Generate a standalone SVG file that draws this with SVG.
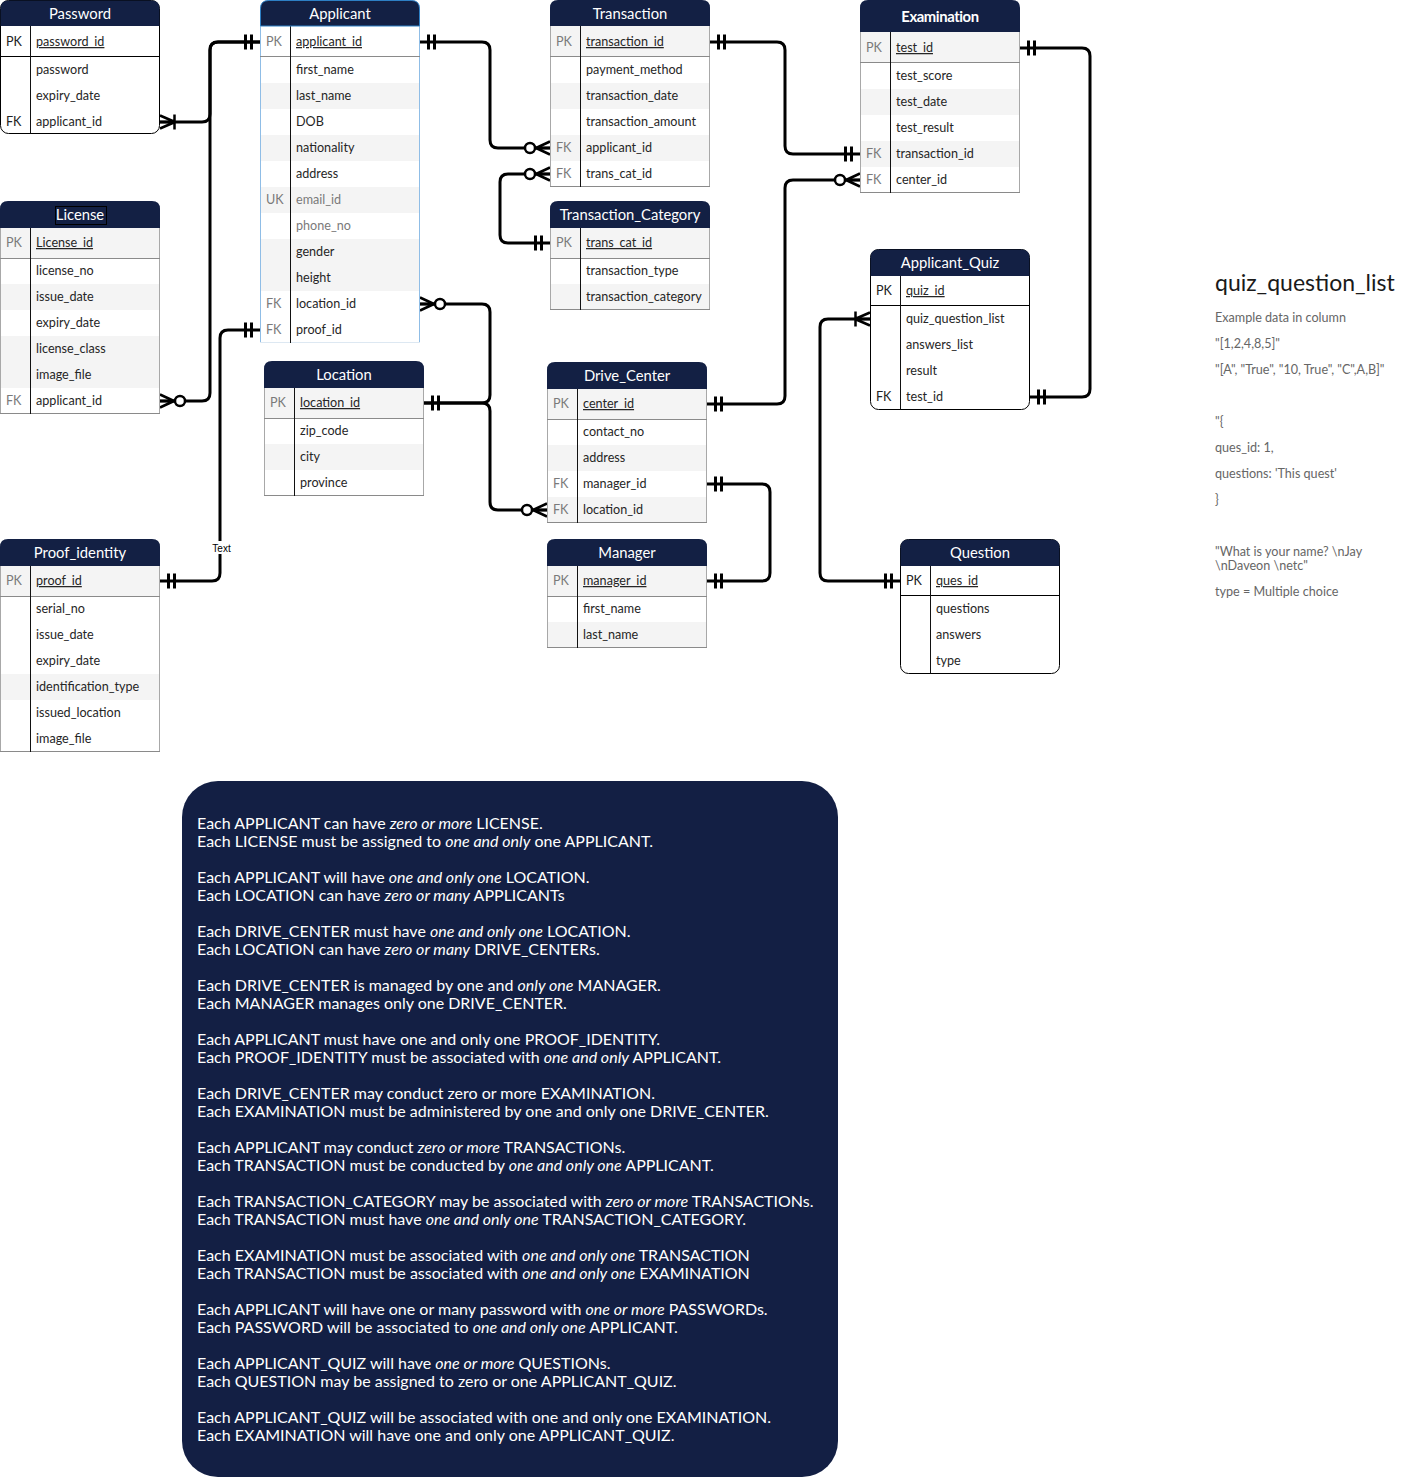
<svg xmlns="http://www.w3.org/2000/svg" width="1401" height="1481" viewBox="0 0 1401 1481">
<style>
.hdr{fill:#132044}
.ht{font-family:Lato,"Open Sans",sans-serif;font-size:14.8px;fill:#fff;text-anchor:middle}
.f{font-family:Lato,"Open Sans",sans-serif;font-size:12.6px;fill:#262626}
.g{fill:#7a7a7a}
.k{font-family:Lato,"Open Sans",sans-serif;font-size:12.6px;fill:#7a7a7a}
.kb{font-family:Lato,"Open Sans",sans-serif;font-size:12.6px;fill:#222}
.u{text-decoration:underline}
.alt{fill:#f4f4f4}
.bg{fill:#fff}
.side{stroke:#a8a8a8;stroke-width:1}
.bside{stroke:#8fbde6;stroke-width:1}
.bot{stroke:#8a8a8a;stroke-width:1}
.dv{stroke:#111;stroke-width:1}
.sep{stroke:#8a8a8a;stroke-width:1}
.bsep{stroke:#000;stroke-width:1}
.outl{fill:#fff;stroke:#000;stroke-width:1}
.cn{fill:none;stroke:#000;stroke-width:3;stroke-linejoin:round}
.bx{font-family:Lato,"Open Sans",sans-serif;font-size:16px;fill:#fff}
.it{font-style:italic}
.st{font-family:Lato,"Open Sans",sans-serif;font-size:12.6px;fill:#666}
</style>
<defs>
<marker id="one" markerUnits="userSpaceOnUse" viewBox="0 0 30 20" refX="30" refY="10" markerWidth="30" markerHeight="20" orient="auto-start-reverse" overflow="visible">
<path d="M15.5,2.5 V17.5 M21.5,2.5 V17.5" stroke="#000" stroke-width="3" fill="none"/>
</marker>
<marker id="zm" markerUnits="userSpaceOnUse" viewBox="0 0 30 20" refX="30" refY="10" markerWidth="30" markerHeight="20" orient="auto-start-reverse" overflow="visible">
<path d="M16,10 L30,3.5 M16,10 L30,10 M16,10 L30,16.5" stroke="#000" stroke-width="2.5" fill="none"/>
<circle cx="10" cy="10" r="5" fill="#fff" stroke="#000" stroke-width="2.5"/>
</marker>
<marker id="om" markerUnits="userSpaceOnUse" viewBox="0 0 30 20" refX="30" refY="10" markerWidth="30" markerHeight="20" orient="auto-start-reverse" overflow="visible">
<path d="M15,10 L30,3.5 M15,10 L30,10 M15,10 L30,16.5 M15.5,2.5 V17.5" stroke="#000" stroke-width="2.5" fill="none"/>
</marker>
</defs>
<rect width="1401" height="1481" fill="#fff"/>

<g id="connectors">
<path class="cn" d="M160,122 H202 Q210,122 210,114 V50 Q210,42 218,42 H260" marker-start="url(#om)" marker-end="url(#one)"/>
<path class="cn" d="M160,401 H202 Q210,401 210,393 V50 Q210,42 218,42 H260" marker-start="url(#zm)"/>
<path class="cn" d="M260,330 H228 Q220,330 220,338 V573 Q220,581 212,581 H160" marker-start="url(#one)" marker-end="url(#one)"/>
<path class="cn" d="M420,304 H482 Q490,304 490,312 V395 Q490,403 482,403 H424" marker-start="url(#zm)" marker-end="url(#one)"/>
<path class="cn" d="M424,403 H482 Q490,403 490,411 V502 Q490,510 498,510 H547" marker-end="url(#zm)"/>
<path class="cn" d="M420,42 H482 Q490,42 490,50 V140 Q490,148 498,148 H550" marker-start="url(#one)" marker-end="url(#zm)"/>
<path class="cn" d="M550,243 H508 Q500,243 500,235 V182 Q500,174 508,174 H550" marker-start="url(#one)" marker-end="url(#zm)"/>
<path class="cn" d="M710,42 H777 Q785,42 785,50 V146 Q785,154 793,154 H860" marker-start="url(#one)" marker-end="url(#one)"/>
<path class="cn" d="M707,404 H777 Q785,404 785,396 V188 Q785,180 793,180 H860" marker-start="url(#one)" marker-end="url(#zm)"/>
<path class="cn" d="M707,484 H762 Q770,484 770,492 V573 Q770,581 762,581 H707" marker-start="url(#one)" marker-end="url(#one)"/>
<path class="cn" d="M1020,48 H1082 Q1090,48 1090,56 V389 Q1090,397 1082,397 H1030" marker-start="url(#one)" marker-end="url(#one)"/>
<path class="cn" d="M900,581 H828 Q820,581 820,573 V327 Q820,319 828,319 H870" marker-start="url(#one)" marker-end="url(#om)"/>
<rect x="210" y="541" width="23" height="13" fill="#fff"/>
<text x="221.5" y="551.5" font-family="Liberation Sans, Arial, sans-serif" font-size="10" fill="#000" text-anchor="middle">Text</text>
</g>

<g id="password">
<rect x="0.5" y="0.5" width="159" height="133" rx="8" class="outl"/>
<path class="hdr" d="M0.5,26 V8.5 Q0.5,0.5 8.5,0.5 H151.5 Q159.5,0.5 159.5,8.5 V26 Z"/>
<text class="ht" x="80" y="19">Password</text>
<line x1="0.5" y1="56.5" x2="159.5" y2="56.5" class="bsep"/>
<line x1="30.5" y1="26" x2="30.5" y2="133.5" class="dv"/>
<text class="kb" x="6" y="46">PK</text>
<text class="f u" x="36" y="46">password_id</text>
<text class="f" x="36" y="74">password</text>
<text class="f" x="36" y="100">expiry_date</text>
<text class="kb" x="6" y="126">FK</text>
<text class="f" x="36" y="126">applicant_id</text>
</g>

<g id="applicant">
<rect x="260" y="26" width="160" height="317" class="bg"/>
<rect x="260" y="83" width="160" height="26" class="alt"/>
<rect x="260" y="135" width="160" height="26" class="alt"/>
<rect x="260" y="187" width="160" height="26" class="alt"/>
<rect x="260" y="239" width="160" height="52" class="alt"/>
<line x1="260.5" y1="26" x2="260.5" y2="343" class="bside"/>
<line x1="419.5" y1="26" x2="419.5" y2="343" class="bside"/>
<line x1="260" y1="342.5" x2="420" y2="342.5" stroke="#dde8f2"/>
<line x1="260" y1="56.5" x2="420" y2="56.5" class="sep"/>
<line x1="290.5" y1="26" x2="290.5" y2="343" class="dv"/>
<path class="hdr" d="M260.5,26 V8.5 Q260.5,0.5 268.5,0.5 H411.5 Q419.5,0.5 419.5,8.5 V26 Z" stroke="#2d7fc4" stroke-width="1"/>
<text class="ht" x="340" y="19">Applicant</text>
<text class="k" x="266" y="46">PK</text>
<text class="f u" x="296" y="46">applicant_id</text>
<text class="f" x="296" y="74">first_name</text>
<text class="f" x="296" y="100">last_name</text>
<text class="f" x="296" y="126">DOB</text>
<text class="f" x="296" y="152">nationality</text>
<text class="f" x="296" y="178">address</text>
<text class="k" x="266" y="204">UK</text>
<text class="f g" x="296" y="204">email_id</text>
<text class="f g" x="296" y="230">phone_no</text>
<text class="f" x="296" y="256">gender</text>
<text class="f" x="296" y="282">height</text>
<text class="k" x="266" y="308">FK</text>
<text class="f" x="296" y="308">location_id</text>
<text class="k" x="266" y="334">FK</text>
<text class="f" x="296" y="334">proof_id</text>
</g>

<g id="transaction">
<rect x="550" y="26" width="160" height="161" class="bg"/>
<rect x="550" y="26" width="160" height="30" class="alt"/>
<rect x="550" y="83" width="160" height="26" class="alt"/>
<rect x="550" y="135" width="160" height="26" class="alt"/>
<line x1="550.5" y1="26" x2="550.5" y2="187" class="side"/>
<line x1="709.5" y1="26" x2="709.5" y2="187" class="side"/>
<line x1="550" y1="186.5" x2="710" y2="186.5" class="bot"/>
<line x1="550" y1="56.5" x2="710" y2="56.5" class="sep"/>
<line x1="580.5" y1="26" x2="580.5" y2="187" class="dv"/>
<path class="hdr" d="M550,26 V8 Q550,0 558,0 H702 Q710,0 710,8 V26 Z"/>
<text class="ht" x="630" y="19">Transaction</text>
<text class="k" x="556" y="46">PK</text>
<text class="f u" x="586" y="46">transaction_id</text>
<text class="f" x="586" y="74">payment_method</text>
<text class="f" x="586" y="100">transaction_date</text>
<text class="f" x="586" y="126">transaction_amount</text>
<text class="k" x="556" y="152">FK</text>
<text class="f" x="586" y="152">applicant_id</text>
<text class="k" x="556" y="178">FK</text>
<text class="f" x="586" y="178">trans_cat_id</text>
</g>

<g id="examination">
<rect x="860" y="32" width="160" height="161" class="bg"/>
<rect x="860" y="32" width="160" height="30" class="alt"/>
<rect x="860" y="89" width="160" height="26" class="alt"/>
<rect x="860" y="141" width="160" height="26" class="alt"/>
<line x1="860.5" y1="32" x2="860.5" y2="193" class="side"/>
<line x1="1019.5" y1="32" x2="1019.5" y2="193" class="side"/>
<line x1="860" y1="192.5" x2="1020" y2="192.5" class="bot"/>
<line x1="860" y1="62.5" x2="1020" y2="62.5" class="sep"/>
<line x1="890.5" y1="32" x2="890.5" y2="193" class="dv"/>
<path class="hdr" d="M860,32 V8 Q860,0 868,0 H1012 Q1020,0 1020,8 V32 Z"/>
<text class="ht" x="940" y="22" font-weight="bold" letter-spacing="-0.4">Examination</text>
<text class="k" x="866" y="52">PK</text>
<text class="f u" x="896" y="52">test_id</text>
<text class="f" x="896" y="80">test_score</text>
<text class="f" x="896" y="106">test_date</text>
<text class="f" x="896" y="132">test_result</text>
<text class="k" x="866" y="158">FK</text>
<text class="f" x="896" y="158">transaction_id</text>
<text class="k" x="866" y="184">FK</text>
<text class="f" x="896" y="184">center_id</text>
</g>

<g id="transaction_category">
<rect x="550" y="228" width="160" height="82" class="bg"/>
<rect x="550" y="228" width="160" height="30" class="alt"/>
<rect x="550" y="284" width="160" height="26" class="alt"/>
<line x1="550.5" y1="228" x2="550.5" y2="310" class="side"/>
<line x1="709.5" y1="228" x2="709.5" y2="310" class="side"/>
<line x1="550" y1="309.5" x2="710" y2="309.5" class="bot"/>
<line x1="550" y1="258.5" x2="710" y2="258.5" class="sep"/>
<line x1="580.5" y1="228" x2="580.5" y2="310" class="dv"/>
<path class="hdr" d="M550,228 V209 Q550,201 558,201 H702 Q710,201 710,209 V228 Z"/>
<text class="ht" x="630" y="220">Transaction_Category</text>
<text class="k" x="556" y="247">PK</text>
<text class="f u" x="586" y="247">trans_cat_id</text>
<text class="f" x="586" y="275">transaction_type</text>
<text class="f" x="586" y="301">transaction_category</text>
</g>

<g id="license">
<rect x="0" y="228" width="160" height="186" class="bg"/>
<rect x="0" y="228" width="160" height="30" class="alt"/>
<rect x="0" y="284" width="160" height="26" class="alt"/>
<rect x="0" y="336" width="160" height="52" class="alt"/>
<line x1="0.5" y1="228" x2="0.5" y2="414" class="side"/>
<line x1="159.5" y1="228" x2="159.5" y2="414" class="side"/>
<line x1="0" y1="413.5" x2="160" y2="413.5" class="bot"/>
<line x1="0" y1="258.5" x2="160" y2="258.5" class="sep"/>
<line x1="30.5" y1="228" x2="30.5" y2="414" class="dv"/>
<path class="hdr" d="M0,228 V209 Q0,201 8,201 H152 Q160,201 160,209 V228 Z"/>
<rect x="55.5" y="206.5" width="51" height="18" fill="none" stroke="#000" stroke-width="1"/>
<text class="ht" x="80" y="220">License</text>
<text class="k" x="6" y="247">PK</text>
<text class="f u" x="36" y="247">License_id</text>
<text class="f" x="36" y="275">license_no</text>
<text class="f" x="36" y="301">issue_date</text>
<text class="f" x="36" y="327">expiry_date</text>
<text class="f" x="36" y="353">license_class</text>
<text class="f" x="36" y="379">image_file</text>
<text class="k" x="6" y="405">FK</text>
<text class="f" x="36" y="405">applicant_id</text>
</g>

<g id="location">
<rect x="264" y="388" width="160" height="108" class="bg"/>
<rect x="264" y="388" width="160" height="30" class="alt"/>
<rect x="264" y="444" width="160" height="26" class="alt"/>
<line x1="264.5" y1="388" x2="264.5" y2="496" class="side"/>
<line x1="423.5" y1="388" x2="423.5" y2="496" class="side"/>
<line x1="264" y1="495.5" x2="424" y2="495.5" class="bot"/>
<line x1="264" y1="418.5" x2="424" y2="418.5" class="sep"/>
<line x1="294.5" y1="388" x2="294.5" y2="496" class="dv"/>
<path class="hdr" d="M264,388 V369 Q264,361 272,361 H416 Q424,361 424,369 V388 Z"/>
<text class="ht" x="344" y="380">Location</text>
<text class="k" x="270" y="407">PK</text>
<text class="f u" x="300" y="407">location_id</text>
<text class="f" x="300" y="435">zip_code</text>
<text class="f" x="300" y="461">city</text>
<text class="f" x="300" y="487">province</text>
</g>

<g id="drive_center">
<rect x="547" y="389" width="160" height="134" class="bg"/>
<rect x="547" y="389" width="160" height="30" class="alt"/>
<rect x="547" y="445" width="160" height="26" class="alt"/>
<rect x="547" y="497" width="160" height="26" class="alt"/>
<line x1="547.5" y1="389" x2="547.5" y2="523" class="side"/>
<line x1="706.5" y1="389" x2="706.5" y2="523" class="side"/>
<line x1="547" y1="522.5" x2="707" y2="522.5" class="bot"/>
<line x1="547" y1="419.5" x2="707" y2="419.5" class="sep"/>
<line x1="577.5" y1="389" x2="577.5" y2="523" class="dv"/>
<path class="hdr" d="M547,389 V370 Q547,362 555,362 H699 Q707,362 707,370 V389 Z"/>
<text class="ht" x="627" y="381">Drive_Center</text>
<text class="k" x="553" y="408">PK</text>
<text class="f u" x="583" y="408">center_id</text>
<text class="f" x="583" y="436">contact_no</text>
<text class="f" x="583" y="462">address</text>
<text class="k" x="553" y="488">FK</text>
<text class="f" x="583" y="488">manager_id</text>
<text class="k" x="553" y="514">FK</text>
<text class="f" x="583" y="514">location_id</text>
</g>

<g id="manager">
<rect x="547" y="566" width="160" height="82" class="bg"/>
<rect x="547" y="566" width="160" height="30" class="alt"/>
<rect x="547" y="622" width="160" height="26" class="alt"/>
<line x1="547.5" y1="566" x2="547.5" y2="648" class="side"/>
<line x1="706.5" y1="566" x2="706.5" y2="648" class="side"/>
<line x1="547" y1="647.5" x2="707" y2="647.5" class="bot"/>
<line x1="547" y1="596.5" x2="707" y2="596.5" class="sep"/>
<line x1="577.5" y1="566" x2="577.5" y2="648" class="dv"/>
<path class="hdr" d="M547,566 V547 Q547,539 555,539 H699 Q707,539 707,547 V566 Z"/>
<text class="ht" x="627" y="558">Manager</text>
<text class="k" x="553" y="585">PK</text>
<text class="f u" x="583" y="585">manager_id</text>
<text class="f" x="583" y="613">first_name</text>
<text class="f" x="583" y="639">last_name</text>
</g>

<g id="applicant_quiz">
<rect x="870.5" y="249.5" width="159" height="160" rx="8" class="outl"/>
<path class="hdr" d="M870.5,276 V257.5 Q870.5,249.5 878.5,249.5 H1021.5 Q1029.5,249.5 1029.5,257.5 V276 Z"/>
<text class="ht" x="950" y="268">Applicant_Quiz</text>
<line x1="870.5" y1="305.5" x2="1029.5" y2="305.5" class="bsep"/>
<line x1="900.5" y1="276" x2="900.5" y2="409.5" class="dv"/>
<text class="kb" x="876" y="295">PK</text>
<text class="f u" x="906" y="295">quiz_id</text>
<text class="f" x="906" y="323">quiz_question_list</text>
<text class="f" x="906" y="349">answers_list</text>
<text class="f" x="906" y="375">result</text>
<text class="kb" x="876" y="401">FK</text>
<text class="f" x="906" y="401">test_id</text>
</g>

<g id="question">
<rect x="900.5" y="539.5" width="159" height="134" rx="8" class="outl"/>
<path class="hdr" d="M900.5,566 V547.5 Q900.5,539.5 908.5,539.5 H1051.5 Q1059.5,539.5 1059.5,547.5 V566 Z"/>
<text class="ht" x="980" y="558">Question</text>
<line x1="900.5" y1="595.5" x2="1059.5" y2="595.5" class="bsep"/>
<line x1="930.5" y1="566" x2="930.5" y2="673.5" class="dv"/>
<text class="kb" x="906" y="585">PK</text>
<text class="f u" x="936" y="585">ques_id</text>
<text class="f" x="936" y="613">questions</text>
<text class="f" x="936" y="639">answers</text>
<text class="f" x="936" y="665">type</text>
</g>

<g id="proof_identity">
<rect x="0" y="566" width="160" height="186" class="bg"/>
<rect x="0" y="566" width="160" height="30" class="alt"/>
<rect x="0" y="674" width="160" height="26" class="alt"/>
<line x1="0.5" y1="566" x2="0.5" y2="752" class="side"/>
<line x1="159.5" y1="566" x2="159.5" y2="752" class="side"/>
<line x1="0" y1="751.5" x2="160" y2="751.5" class="bot"/>
<line x1="0" y1="596.5" x2="160" y2="596.5" class="sep"/>
<line x1="30.5" y1="566" x2="30.5" y2="752" class="dv"/>
<path class="hdr" d="M0,566 V547 Q0,539 8,539 H152 Q160,539 160,547 V566 Z"/>
<text class="ht" x="80" y="558">Proof_identity</text>
<text class="k" x="6" y="585">PK</text>
<text class="f u" x="36" y="585">proof_id</text>
<text class="f" x="36" y="613">serial_no</text>
<text class="f" x="36" y="639">issue_date</text>
<text class="f" x="36" y="665">expiry_date</text>
<text class="f" x="36" y="691">identification_type</text>
<text class="f" x="36" y="717">issued_location</text>
<text class="f" x="36" y="743">image_file</text>
</g>

<g id="notes">
<text x="1215" y="291" font-family="Lato, 'Open Sans', sans-serif" font-size="23" fill="#1a1a1a">quiz_question_list</text>
<text class="st" x="1215" y="322">Example data in column</text>
<text class="st" x="1215" y="348">"[1,2,4,8,5]"</text>
<text class="st" x="1215" y="374">"[A", "True", "10, True", "C",A,B]"</text>
<text class="st" x="1215" y="426">"{</text>
<text class="st" x="1215" y="452">ques_id: 1,</text>
<text class="st" x="1215" y="478">questions: 'This quest'</text>
<text class="st" x="1215" y="504">}</text>
<text class="st" x="1215" y="556">"What is your name? \nJay</text>
<text class="st" x="1215" y="570">\nDaveon \netc"</text>
<text class="st" x="1215" y="596">type = Multiple choice</text>
</g>

<g id="rules">
<rect x="182" y="781" width="656" height="696" rx="36" fill="#131f44"/>
<text class="bx" x="197" y="829">Each APPLICANT can have <tspan class="it">zero or more</tspan> LICENSE.</text>
<text class="bx" x="197" y="847">Each LICENSE must be assigned to <tspan class="it">one and only</tspan> one APPLICANT.</text>
<text class="bx" x="197" y="883">Each APPLICANT will have <tspan class="it">one and only one</tspan> LOCATION.</text>
<text class="bx" x="197" y="901">Each LOCATION can have <tspan class="it">zero or many</tspan> APPLICANTs</text>
<text class="bx" x="197" y="937">Each DRIVE_CENTER must have <tspan class="it">one and only one</tspan> LOCATION.</text>
<text class="bx" x="197" y="955">Each LOCATION can have <tspan class="it">zero or many</tspan> DRIVE_CENTERs.</text>
<text class="bx" x="197" y="991">Each DRIVE_CENTER is managed by one and <tspan class="it">only one</tspan> MANAGER.</text>
<text class="bx" x="197" y="1009">Each MANAGER manages only one DRIVE_CENTER.</text>
<text class="bx" x="197" y="1045">Each APPLICANT must have one and only one PROOF_IDENTITY.</text>
<text class="bx" x="197" y="1063">Each PROOF_IDENTITY must be associated with <tspan class="it">one and only</tspan> APPLICANT.</text>
<text class="bx" x="197" y="1099">Each DRIVE_CENTER may conduct zero or more EXAMINATION.</text>
<text class="bx" x="197" y="1117">Each EXAMINATION must be administered by one and only one DRIVE_CENTER.</text>
<text class="bx" x="197" y="1153">Each APPLICANT may conduct <tspan class="it">zero or more</tspan> TRANSACTIONs.</text>
<text class="bx" x="197" y="1171">Each TRANSACTION must be conducted by <tspan class="it">one and only one</tspan> APPLICANT.</text>
<text class="bx" x="197" y="1207">Each TRANSACTION_CATEGORY may be associated with <tspan class="it">zero or more</tspan> TRANSACTIONs.</text>
<text class="bx" x="197" y="1225">Each TRANSACTION must have <tspan class="it">one and only one</tspan> TRANSACTION_CATEGORY.</text>
<text class="bx" x="197" y="1261">Each EXAMINATION must be associated with <tspan class="it">one and only one</tspan> TRANSACTION</text>
<text class="bx" x="197" y="1279">Each TRANSACTION must be associated with <tspan class="it">one and only one</tspan> EXAMINATION</text>
<text class="bx" x="197" y="1315">Each APPLICANT will have one or many password with <tspan class="it">one or more</tspan> PASSWORDs.</text>
<text class="bx" x="197" y="1333">Each PASSWORD will be associated to <tspan class="it">one and only one</tspan> APPLICANT.</text>
<text class="bx" x="197" y="1369">Each APPLICANT_QUIZ will have <tspan class="it">one or more</tspan> QUESTIONs.</text>
<text class="bx" x="197" y="1387">Each QUESTION may be assigned to zero or one APPLICANT_QUIZ.</text>
<text class="bx" x="197" y="1423">Each APPLICANT_QUIZ will be associated with one and only one EXAMINATION.</text>
<text class="bx" x="197" y="1441">Each EXAMINATION will have one and only one APPLICANT_QUIZ.</text>
</g>
</svg>
